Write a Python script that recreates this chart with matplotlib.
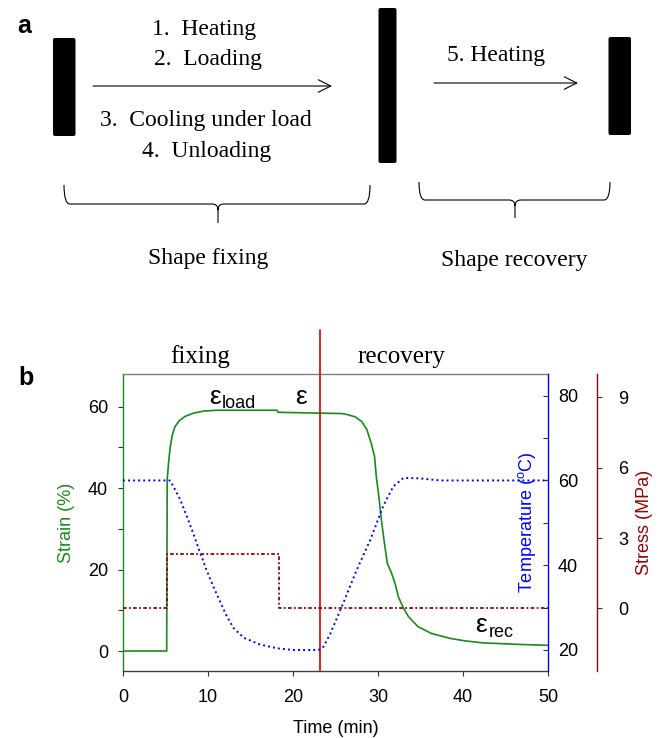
import matplotlib
matplotlib.use('Agg')
import matplotlib.pyplot as plt
from matplotlib.patches import FancyBboxPatch, PathPatch
from matplotlib.path import Path

plt.rcParams['font.family'] = ['Liberation Sans', 'DejaVu Sans']
plt.rcParams['mathtext.fontset'] = 'custom'
plt.rcParams['mathtext.rm'] = 'Liberation Sans'

#-----------------------------------------------------------------------------#
# dados

# deformacao (%)
time_strain = [0, 5.14, 5.2, 5.35, 5.55, 5.8, 6.1, 6.6, 7.3, 8.3, 9.5, 11.0,
               18.1, 18.25, 23.0, 25.5, 26.1, 27.3, 28.1, 28.7, 29.2, 29.6,
               29.8, 30.1, 30.4, 30.7, 31.1, 31.6, 32.0, 32.4, 33.0, 33.6,
               34.7, 36.3, 38.5, 40.2, 42.4, 46.3, 50.0]
strain = [0, 0, 42, 46, 50, 53, 55, 56.5, 57.6, 58.4, 58.9, 59.1,
          59.1, 58.6, 58.4, 58.3, 58.2, 57.5, 56.3, 54.3, 51.0, 47.7,
          42.8, 37.9, 32.2, 27.3, 21.5, 19.1, 16.6, 13.3, 10.5, 8.4,
          6.0, 4.3, 3.1, 2.5, 2.0, 1.65, 1.4]

# temperatura (C)
time_temp = [0, 5.5, 5.9, 6.7, 7.5, 8.3, 9.06, 9.8, 10.6, 11.4, 12.2, 13.0,
             14.2, 16.1, 18.1, 20.0, 23.0, 23.6, 24.4, 25.9, 27.5, 29.1,
             30.6, 31.8, 33.0, 34.9, 37.3, 50.0]
temperature = [60, 60, 58.7, 55.6, 51.6, 47.3, 43.0, 39.0, 35.1, 31.5, 28.0, 25.2,
               22.9, 21.3, 20.4, 20.0, 20.0, 20.8, 23.9, 31.0, 38.9, 46.0,
               53.9, 58.6, 60.6, 60.5, 60.0, 60.0]

# tensao (MPa)
time_stress = [0, 5.14, 5.14, 18.3, 18.3, 50]
stress = [0, 0, 2.32, 2.32, 0, 0]

t_switch = 23.2

x_ticks = [0, 10, 20, 30, 40, 50]
strain_ticks = [0, 20, 40, 60]
strain_minor = [10, 30, 50]
temp_ticks = [20, 40, 60, 80]
temp_minor = [30, 50, 70]
stress_ticks = [0, 3, 6, 9]

steps_fixing = ['1.  Heating', '2.  Loading', '3.  Cooling under load', '4.  Unloading']
step_recovery = '5. Heating'

GREEN = '#1a8a1a'
BLUE = '#0000ff'
DARKRED = '#990000'
RED = '#dd0000'

#-----------------------------------------------------------------------------#
fig = plt.figure(figsize=(6.62, 7.38), dpi=100)

# camada de desenho em pixels (painel a + rotulos)
top = fig.add_axes([0, 0, 1, 1], zorder=0)
top.set_xlim(0, 662)
top.set_ylim(738, 0)
top.axis('off')

serif = dict(family='Liberation Serif', fontsize=17)

top.text(17, 33, 'a', fontsize=18, fontweight='bold', va='baseline')
top.text(18, 385, 'b', fontsize=18, fontweight='bold', va='baseline')

# barras
for x0, y0, w, h in [(53, 38, 22.5, 98), (378.5, 8, 18, 155), (608.5, 37, 22.5, 98)]:
    top.add_patch(FancyBboxPatch((x0, y0), w, h, boxstyle='round,pad=0,rounding_size=2',
                                 fc='black', ec='none'))

# setas
top.annotate('', xy=(332, 86), xytext=(93, 86),
             arrowprops=dict(arrowstyle='->,head_length=0.6,head_width=0.3',
                             lw=0.8, color='black', mutation_scale=15, shrinkA=0, shrinkB=0))
top.annotate('', xy=(578, 83), xytext=(434, 83),
             arrowprops=dict(arrowstyle='->,head_length=0.6,head_width=0.3',
                             lw=0.8, color='black', mutation_scale=15, shrinkA=0, shrinkB=0))

# textos das etapas
for txt, xc, yb in zip(steps_fixing, [204, 207.5, 206, 207], [35, 65, 126, 157]):
    top.text(xc, yb, txt, ha='center', va='baseline', **serif)
top.text(496, 61, step_recovery, ha='center', va='baseline', **serif)


def brace(x0, x1, xc, y_top, y_h, y_tip, r=6):
    verts = [(x0, y_top), (x0, y_h), (x0 + r, y_h),
             (xc - r, y_h), (xc, y_h), (xc, y_h + r),
             (xc, y_tip),
             (xc, y_h + r), (xc, y_h), (xc + r, y_h),
             (x1 - r, y_h), (x1, y_h), (x1, y_top)]
    codes = [Path.MOVETO, Path.CURVE3, Path.CURVE3,
             Path.LINETO, Path.CURVE3, Path.CURVE3,
             Path.LINETO,
             Path.MOVETO, Path.CURVE3, Path.CURVE3,
             Path.LINETO, Path.CURVE3, Path.CURVE3]
    top.add_patch(PathPatch(Path(verts, codes), fc='none', ec='black', lw=0.8))


brace(64, 370, 218, 185, 204, 223)
brace(419, 610, 515, 182, 200, 218)

top.text(208.5, 264, 'Shape fixing', ha='center', va='baseline', **serif)
top.text(514, 266, 'Shape recovery', ha='center', va='baseline', **serif)

top.text(200.5, 363, 'fixing', ha='center', va='baseline', family='Liberation Serif', fontsize=18)
top.text(401.5, 363, 'recovery', ha='center', va='baseline', family='Liberation Serif', fontsize=18)

#-----------------------------------------------------------------------------#
# painel b
ax1 = fig.add_axes([123 / 662, 1 - 671 / 738, 425 / 662, 297 / 738], zorder=1)
ax2 = ax1.twinx()
ax3 = ax1.twinx()

ax1.plot(time_strain, strain, color=GREEN, lw=1.2, zorder=3)
ax2.plot(time_temp, temperature, color=BLUE, lw=1.4, linestyle=(0, (1, 1.6)))
ax3.plot(time_stress, stress, color=DARKRED, lw=1.3, linestyle=(0, (2, 1.3, 1, 1.3)))

ax1.axvline(t_switch, ymin=0, ymax=1.148, color=RED, lw=1.2, clip_on=False, zorder=5)

ax1.set_xlim(0, 50)
ax1.set_ylim(-4.9, 68)
ax2.set_ylim(15.04, 85.12)
ax3.set_ylim(-2.675, 10.0)

ax1.set_xticks(x_ticks)
ax1.set_yticks(strain_ticks)
ax1.set_yticks(strain_minor, minor=True)
ax2.set_yticks(temp_ticks)
ax2.set_yticks(temp_minor, minor=True)
ax3.set_yticks(stress_ticks)

ax1.tick_params(axis='both', which='both', direction='out', length=3.8, width=0.8,
                labelsize=13, color='#333333')
ax1.tick_params(axis='x', pad=9)
ax1.tick_params(axis='y', pad=7)
ax2.tick_params(axis='y', which='both', direction='in', length=3.8, width=0.8,
                labelsize=13, pad=7.2, color='#333333')
ax3.tick_params(axis='y', direction='out', length=3.8, width=0.8, labelsize=13,
                pad=11.3, color='#333333')

ax3.spines['right'].set_position(('outward', 35.3))

for ax in (ax2, ax3):
    for side in ('left', 'top', 'bottom'):
        ax.spines[side].set_visible(False)
ax1.spines['right'].set_visible(False)
ax1.spines['left'].set_color(GREEN)
ax1.spines['top'].set_color('#808080')
ax1.spines['bottom'].set_color('#404040')
ax2.spines['right'].set_color(BLUE)
ax3.spines['right'].set_color(DARKRED)
for ax in (ax1, ax2, ax3):
    for sp in ax.spines.values():
        sp.set_linewidth(1.0)

ax1.set_xlabel('Time (min)', fontsize=13)
ax1.xaxis.set_label_coords(0.5, -0.195)
ax1.xaxis.label.set_va('center')

ax1.text(-0.134, 0.5, 'Strain (%)', transform=ax1.transAxes, rotation=90,
         ha='center', va='center', fontsize=13, color=GREEN)
ax1.text(0.9506, 0.5, r'Temperature ($^{\mathrm{o}}$C)', transform=ax1.transAxes,
         rotation=90, ha='center', va='center', fontsize=13, color=BLUE)
ax1.text(1.228, 0.5, 'Stress (MPa)', transform=ax1.transAxes, rotation=90,
         ha='center', va='center', fontsize=13, color=DARKRED)

# anotacoes de deformacao
ax1.text(10.15, 60.66, '\u03b5', fontsize=19, va='baseline')
ax1.text(11.65, 59.68, 'load', fontsize=13, va='baseline')
ax1.text(20.24, 60.66, '\u03b5', fontsize=19, va='baseline')
ax1.text(41.4, 4.74, '\u03b5', fontsize=19, va='baseline')
ax1.text(43.06, 3.44, 'rec', fontsize=13, va='baseline')

fig.savefig('out.png', dpi=100)
